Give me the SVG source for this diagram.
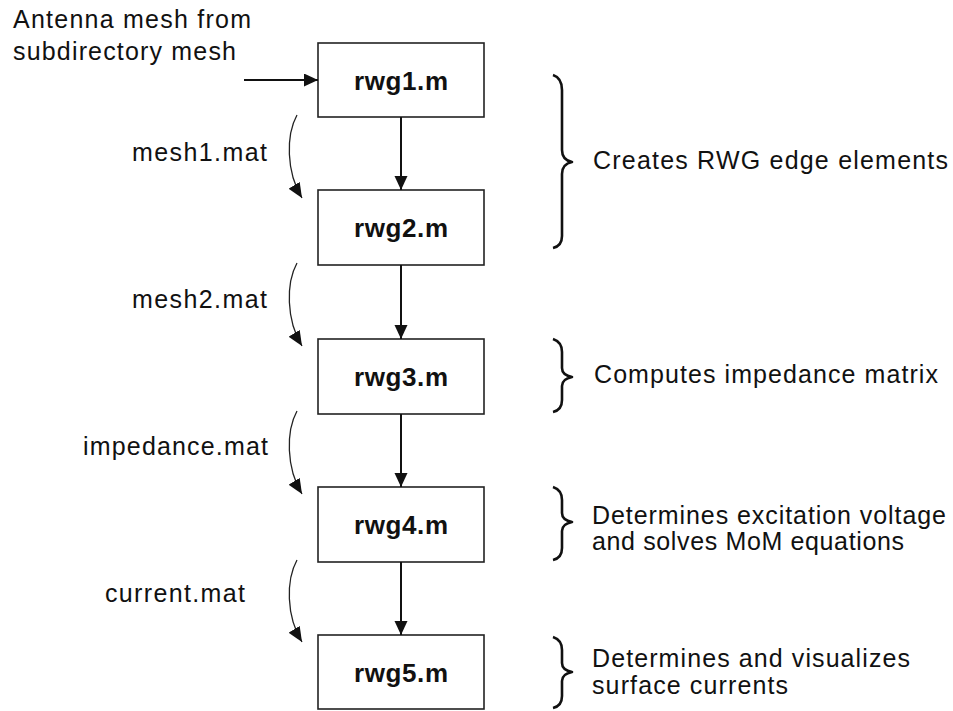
<svg xmlns="http://www.w3.org/2000/svg" width="953" height="711" viewBox="0 0 953 711">
<style>
.t{font-family:"Liberation Sans",Arial,sans-serif;font-size:25px;fill:#111;}
.b{font-family:"Liberation Sans",Arial,sans-serif;font-size:26px;font-weight:bold;fill:#111;text-anchor:middle;}
.box{fill:#fff;stroke:#222;stroke-width:1.6;}
.ar{fill:none;stroke:#111;stroke-width:2;}
.cv{fill:none;stroke:#222;stroke-width:1.3;}
.br{fill:none;stroke:#111;stroke-width:2.6;stroke-linejoin:round;}
</style>
<defs>
<marker id="ah" markerUnits="userSpaceOnUse" markerWidth="15" markerHeight="14" refX="14" refY="6.5" orient="auto">
<path d="M0,0 L14,6.5 L0,13 z" fill="#111"/>
</marker>
<marker id="ch" markerUnits="userSpaceOnUse" markerWidth="16" markerHeight="14" refX="15" refY="6.5" orient="auto">
<path d="M0,0 L15,6.5 L0,13 z" fill="#111"/>
</marker>
</defs>
<rect width="953" height="711" fill="#fff"/>

<g id="input-label">
<text class="t" x="13" y="28" textLength="238" lengthAdjust="spacing">Antenna mesh from</text>
<text class="t" x="13" y="60" textLength="223" lengthAdjust="spacing">subdirectory mesh</text>
</g>

<g id="rwg1"><rect class="box" x="318" y="43" width="166" height="74"/><text class="b" x="401" y="90" textLength="94" lengthAdjust="spacing">rwg1.m</text></g>
<g id="rwg2"><rect class="box" x="318" y="190" width="166" height="75"/><text class="b" x="401" y="237" textLength="94" lengthAdjust="spacing">rwg2.m</text></g>
<g id="rwg3"><rect class="box" x="318" y="339" width="166" height="75"/><text class="b" x="401" y="386" textLength="94" lengthAdjust="spacing">rwg3.m</text></g>
<g id="rwg4"><rect class="box" x="318" y="487" width="166" height="75"/><text class="b" x="401" y="534" textLength="94" lengthAdjust="spacing">rwg4.m</text></g>
<g id="rwg5"><rect class="box" x="318" y="635" width="166" height="74"/><text class="b" x="401" y="682" textLength="94" lengthAdjust="spacing">rwg5.m</text></g>

<g id="connectors">
<path class="ar" d="M244,80 L318,80" marker-end="url(#ah)"/>
<path class="ar" d="M401,117 L401,190" marker-end="url(#ah)"/>
<path class="ar" d="M401,265 L401,339" marker-end="url(#ah)"/>
<path class="ar" d="M401,414 L401,487" marker-end="url(#ah)"/>
<path class="ar" d="M401,562 L401,635" marker-end="url(#ah)"/>
<path class="cv" d="M297,115 C286,135 286,172 302,198" marker-end="url(#ch)"/>
<path class="cv" d="M297,263 C286,283 286,320 302,346" marker-end="url(#ch)"/>
<path class="cv" d="M297,411 C286,431 286,468 302,494" marker-end="url(#ch)"/>
<path class="cv" d="M297,560 C286,580 286,616 302,642" marker-end="url(#ch)"/>
</g>

<g id="file-labels">
<text class="t" x="132" y="161" textLength="135" lengthAdjust="spacing">mesh1.mat</text>
<text class="t" x="132" y="308" textLength="135" lengthAdjust="spacing">mesh2.mat</text>
<text class="t" x="83" y="455" textLength="185" lengthAdjust="spacing">impedance.mat</text>
<text class="t" x="105" y="602" textLength="140" lengthAdjust="spacing">current.mat</text>
</g>

<g id="brace1">
<path class="br" d="M553,75 Q562,78 562,90 L562,150 Q562,160 572,162 Q562,164 562,174 L562,236 Q562,246 553,248"/>
<text class="t" x="593" y="169" textLength="355" lengthAdjust="spacing">Creates RWG edge elements</text>
</g>
<g id="brace2">
<path class="br" d="M553,339 Q562,342 562,352 L562,368 Q562,375 572,377 Q562,379 562,386 L562,400 Q562,410 553,412"/>
<text class="t" x="594" y="383" textLength="344" lengthAdjust="spacing">Computes impedance matrix</text>
</g>
<g id="brace3">
<path class="br" d="M553,487 Q562,490 562,500 L562,513 Q562,520 572,522 Q562,524 562,531 L562,548 Q562,558 553,560"/>
<text class="t" x="592" y="524" textLength="354" lengthAdjust="spacing">Determines excitation voltage</text>
<text class="t" x="592" y="550" textLength="312" lengthAdjust="spacing">and solves MoM equations</text>
</g>
<g id="brace4">
<path class="br" d="M553,637 Q562,640 562,650 L562,663 Q562,670 572,672 Q562,674 562,681 L562,696 Q562,706 553,708"/>
<text class="t" x="592" y="667" textLength="318" lengthAdjust="spacing">Determines and visualizes</text>
<text class="t" x="592" y="694" textLength="196" lengthAdjust="spacing">surface currents</text>
</g>
</svg>
